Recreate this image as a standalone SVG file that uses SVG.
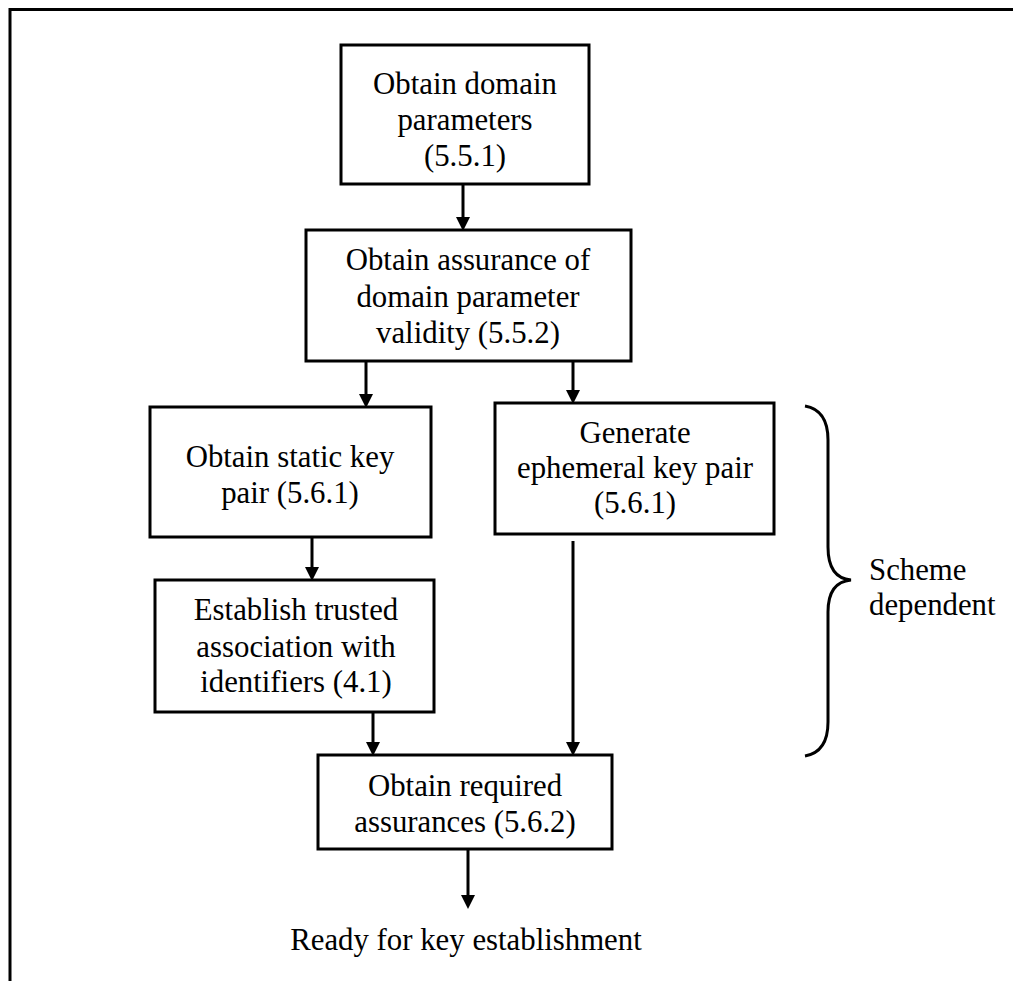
<svg xmlns="http://www.w3.org/2000/svg" width="1013" height="981" viewBox="0 0 1013 981">
<style>
.box{fill:#fff;stroke:#000;stroke-width:3}
.t{font-family:"Liberation Serif","Times New Roman",serif;font-size:30.8px;fill:#000;text-anchor:middle}
.tl{font-family:"Liberation Serif","Times New Roman",serif;font-size:30.8px;fill:#000}
.c{fill:none;stroke:#000;stroke-width:3}
</style>
<defs>
<marker id="ah" markerUnits="userSpaceOnUse" markerWidth="14" markerHeight="14" refX="5" refY="7" orient="auto" viewBox="0 0 14 14">
<path d="M0,0 L14,7 L0,14 z" fill="#000"/>
</marker>
</defs>
<rect width="1013" height="981" fill="#fff"/>
<g id="frame">
<path d="M10,981 V9.5 H1013" class="c"/>
</g>
<g id="connectors">
<path class="c" d="M463,184 V222" marker-end="url(#ah)"/>
<path class="c" d="M366,361 V399" marker-end="url(#ah)"/>
<path class="c" d="M573,361 V395" marker-end="url(#ah)"/>
<path class="c" d="M312,537 V572" marker-end="url(#ah)"/>
<path class="c" d="M373,712 V747" marker-end="url(#ah)"/>
<path class="c" d="M573,541 V747" marker-end="url(#ah)"/>
<path class="c" d="M468,849 V900" marker-end="url(#ah)"/>
</g>
<g id="n1">
<rect class="box" x="341" y="45" width="248" height="139"/>
<text class="t" x="465" y="94">Obtain domain</text>
<text class="t" x="465" y="130">parameters</text>
<text class="t" x="465" y="166">(5.5.1)</text>
</g>
<g id="n2">
<rect class="box" x="306" y="230" width="325" height="131"/>
<text class="t" x="468" y="270">Obtain assurance of</text>
<text class="t" x="468" y="307">domain parameter</text>
<text class="t" x="468" y="343">validity (5.5.2)</text>
</g>
<g id="n3">
<rect class="box" x="150" y="407" width="281" height="130"/>
<text class="t" x="290" y="467">Obtain static key</text>
<text class="t" x="290" y="503">pair (5.6.1)</text>
</g>
<g id="n4">
<rect class="box" x="495" y="403" width="279" height="131"/>
<text class="t" x="635" y="443">Generate</text>
<text class="t" x="635" y="478">ephemeral key pair</text>
<text class="t" x="635" y="513">(5.6.1)</text>
</g>
<g id="n5">
<rect class="box" x="155" y="580" width="279" height="132"/>
<text class="t" x="296" y="620">Establish trusted</text>
<text class="t" x="296" y="657">association with</text>
<text class="t" x="296" y="692">identifiers (4.1)</text>
</g>
<g id="n6">
<rect class="box" x="318" y="755" width="294" height="94"/>
<text class="t" x="465" y="796">Obtain required</text>
<text class="t" x="465" y="832">assurances (5.6.2)</text>
</g>
<g id="out">
<text class="t" x="466" y="950">Ready for key establishment</text>
</g>
<g id="brace">
<path class="c" d="M805,406 Q828,410 828,440 L828,547 Q828,578 851,580 Q828,582 828,612 L828,722 Q828,752 805,756"/>
<text class="tl" x="869" y="580">Scheme</text>
<text class="tl" x="869" y="615">dependent</text>
</g>
</svg>
